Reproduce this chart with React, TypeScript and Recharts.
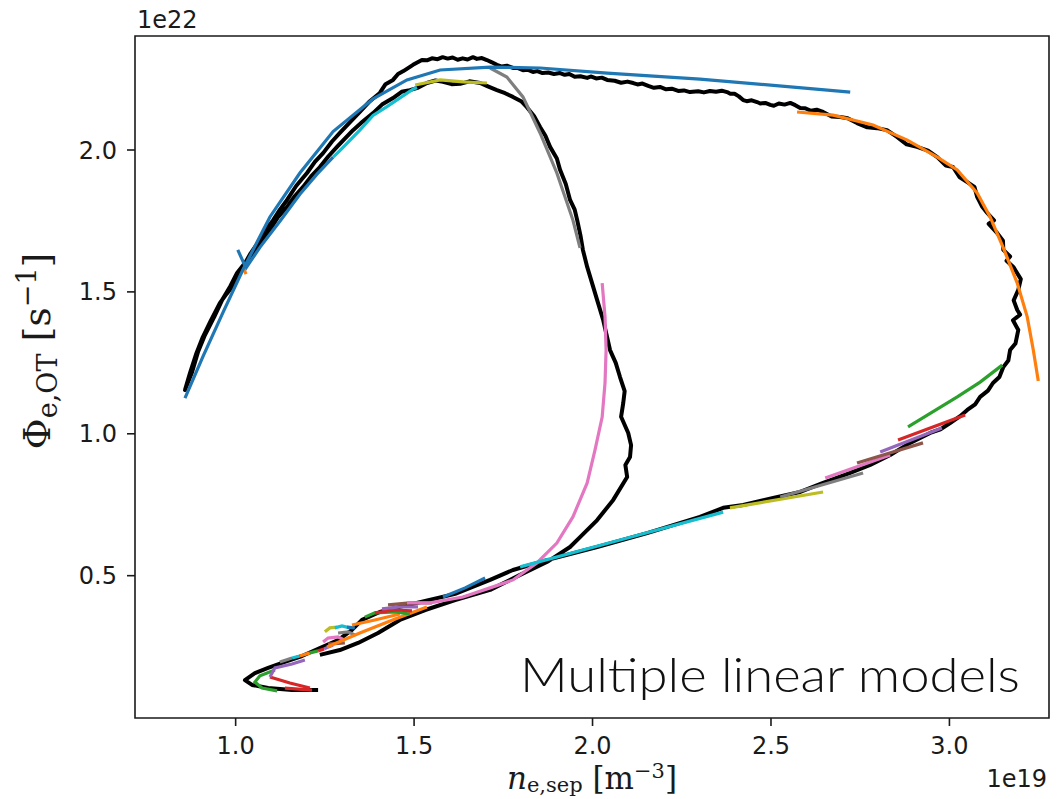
import React from "react";
import { LineChart, Line, XAxis, YAxis, ReferenceArea } from "recharts";

type Pt = [number, number];

// x: n_e,sep [1e19 m^-3], y: Phi_e,OT [1e22 s^-1]
const measured: Pt[] = [
  [1.231, 0.097], [1.158, 0.097], [1.091, 0.104], [1.046, 0.115], [1.026, 0.132], [1.054, 0.157],
  [1.091, 0.175], [1.138, 0.196], [1.186, 0.217], [1.236, 0.245], [1.287, 0.273], [1.326, 0.309],
  [1.354, 0.344], [1.404, 0.372], [1.46, 0.39], [1.531, 0.411], [1.615, 0.436], [1.713, 0.485],
  [1.777, 0.52], [1.872, 0.555], [2.013, 0.601], [2.153, 0.65], [2.301, 0.707], [2.366, 0.739],
  [2.422, 0.749], [2.506, 0.774], [2.582, 0.795], [2.646, 0.827], [2.722, 0.862], [2.778, 0.89],
  [2.834, 0.925], [2.89, 0.968], [2.946, 1.003], [2.975, 1.016], [3.002, 1.038], [3.03, 1.062],
  [3.05, 1.084], [3.072, 1.104], [3.086, 1.13], [3.108, 1.152], [3.122, 1.179], [3.14, 1.2],
  [3.151, 1.235], [3.165, 1.258], [3.17, 1.295], [3.185, 1.318], [3.193, 1.366], [3.178, 1.4],
  [3.198, 1.42], [3.19, 1.436], [3.18, 1.47], [3.193, 1.507], [3.2, 1.545], [3.179, 1.588],
  [3.16, 1.61], [3.17, 1.625], [3.151, 1.648], [3.15, 1.68], [3.134, 1.707], [3.11, 1.74],
  [3.125, 1.752], [3.106, 1.778], [3.092, 1.8], [3.078, 1.834], [3.07, 1.87], [3.05, 1.887],
  [3.028, 1.905], [3.01, 1.94], [2.99, 1.945], [2.966, 1.975], [2.94, 1.998], [2.909, 2.011],
  [2.88, 2.02], [2.853, 2.046], [2.825, 2.07], [2.797, 2.077], [2.77, 2.08], [2.741, 2.095],
  [2.715, 2.112], [2.694, 2.116], [2.67, 2.118], [2.646, 2.134], [2.628, 2.142], [2.612, 2.138],
  [2.596, 2.147], [2.582, 2.148], [2.568, 2.158], [2.554, 2.166], [2.538, 2.16], [2.522, 2.164],
  [2.508, 2.156], [2.498, 2.159], [2.484, 2.166], [2.47, 2.164], [2.461, 2.169], [2.446, 2.175],
  [2.432, 2.172], [2.422, 2.176], [2.41, 2.189], [2.398, 2.198], [2.386, 2.198], [2.377, 2.204],
  [2.362, 2.209], [2.346, 2.205], [2.329, 2.208], [2.312, 2.203], [2.296, 2.207], [2.273, 2.204],
  [2.256, 2.21], [2.24, 2.208], [2.222, 2.216], [2.206, 2.214], [2.189, 2.222], [2.172, 2.219],
  [2.156, 2.226], [2.14, 2.234], [2.126, 2.231], [2.114, 2.236], [2.098, 2.241], [2.08, 2.237],
  [2.062, 2.244], [2.041, 2.247], [2.026, 2.255], [2.01, 2.252], [1.995, 2.259], [1.985, 2.254],
  [1.966, 2.26], [1.95, 2.258], [1.935, 2.268], [1.922, 2.265], [1.909, 2.271], [1.892, 2.268],
  [1.876, 2.273], [1.86, 2.271], [1.845, 2.278], [1.833, 2.275], [1.818, 2.283], [1.805, 2.281],
  [1.79, 2.289], [1.777, 2.289], [1.76, 2.297], [1.746, 2.294], [1.732, 2.3], [1.718, 2.309],
  [1.704, 2.317], [1.69, 2.324], [1.676, 2.321], [1.665, 2.327], [1.65, 2.319], [1.636, 2.323],
  [1.622, 2.318], [1.608, 2.326], [1.594, 2.322], [1.58, 2.327], [1.566, 2.32], [1.55, 2.323],
  [1.536, 2.316], [1.522, 2.317], [1.51, 2.309], [1.497, 2.3], [1.47, 2.278], [1.455, 2.268],
  [1.441, 2.247], [1.42, 2.232], [1.404, 2.201], [1.376, 2.172], [1.348, 2.134], [1.322, 2.1],
  [1.292, 2.06], [1.27, 2.03], [1.245, 1.989], [1.222, 1.958], [1.2, 1.919], [1.17, 1.874],
  [1.144, 1.824], [1.124, 1.79], [1.105, 1.753], [1.085, 1.72], [1.068, 1.683], [1.042, 1.636],
  [1.02, 1.588], [0.99, 1.517], [0.974, 1.492], [0.956, 1.461], [0.93, 1.398], [0.908, 1.341],
  [0.889, 1.28], [0.872, 1.214], [0.858, 1.154], [0.878, 1.218], [0.895, 1.29], [0.914, 1.348],
  [0.94, 1.412], [0.962, 1.471], [0.985, 1.52], [1.004, 1.567], [1.026, 1.602], [1.048, 1.637],
  [1.072, 1.68], [1.096, 1.718], [1.118, 1.762], [1.144, 1.799], [1.166, 1.838], [1.189, 1.87],
  [1.212, 1.908], [1.236, 1.94], [1.26, 1.978], [1.284, 2.011], [1.306, 2.04], [1.329, 2.07],
  [1.356, 2.1], [1.385, 2.13], [1.41, 2.16], [1.441, 2.183], [1.465, 2.205], [1.488, 2.211],
  [1.512, 2.22], [1.536, 2.236], [1.56, 2.245], [1.581, 2.24], [1.605, 2.232], [1.629, 2.233],
  [1.655, 2.242], [1.685, 2.236], [1.705, 2.225], [1.732, 2.211], [1.755, 2.2], [1.777, 2.187],
  [1.8, 2.172], [1.816, 2.151], [1.836, 2.12], [1.853, 2.081], [1.868, 2.05], [1.881, 2.011],
  [1.9, 1.97], [1.909, 1.93], [1.925, 1.88], [1.937, 1.824], [1.95, 1.79], [1.957, 1.753],
  [1.966, 1.7], [1.973, 1.648], [1.985, 1.588], [2.013, 1.471], [2.03, 1.4], [2.049, 1.295],
  [2.065, 1.25], [2.077, 1.2], [2.09, 1.15], [2.086, 1.108], [2.08, 1.06], [2.1, 1.003],
  [2.108, 0.96], [2.105, 0.918], [2.092, 0.89], [2.097, 0.848], [2.058, 0.767], [2.013, 0.696],
  [1.965, 0.636], [1.937, 0.601], [1.872, 0.548], [1.797, 0.503], [1.713, 0.45], [1.615, 0.414],
  [1.531, 0.379], [1.46, 0.344], [1.399, 0.298], [1.343, 0.263], [1.292, 0.238], [1.236, 0.221],
];

// fitted model trajectories
const blueOuter: Pt[] = [
  [0.858, 1.126], [0.908, 1.271], [0.964, 1.426], [1.02, 1.577], [1.096, 1.764], [1.18, 1.919],
  [1.273, 2.065], [1.385, 2.18], [1.48, 2.247], [1.573, 2.282], [1.713, 2.292], [1.853, 2.289],
  [2.041, 2.271], [2.301, 2.25], [2.722, 2.204],
];
const blueInner: Pt[] = [
  [1.006, 1.648], [1.029, 1.584], [1.068, 1.657], [1.124, 1.749], [1.18, 1.844], [1.228, 1.915], [1.273, 1.975],
];
const orangeTick: Pt[] = [[1.023, 1.581], [1.029, 1.563]];
const cyanTop: Pt[] = [
  [1.273, 1.975], [1.292, 1.998], [1.348, 2.07], [1.385, 2.122], [1.424, 2.153], [1.497, 2.214], [1.508, 2.22],
];
const oliveTop: Pt[] = [[1.503, 2.229], [1.573, 2.247], [1.637, 2.24], [1.704, 2.236]];
const grayTop: Pt[] = [
  [1.713, 2.289], [1.76, 2.257], [1.805, 2.187], [1.853, 2.06], [1.9, 1.919], [1.945, 1.753], [1.965, 1.655],
];
const orangeRight: Pt[] = [
  [2.573, 2.134], [2.674, 2.123], [2.786, 2.088], [2.882, 2.035], [2.966, 1.975], [3.022, 1.93],
  [3.078, 1.848], [3.114, 1.764], [3.151, 1.655], [3.19, 1.531], [3.218, 1.412], [3.235, 1.295], [3.249, 1.186],
];
const pinkLarge: Pt[] = [
  [1.48, 0.404], [1.545, 0.404], [1.637, 0.425], [1.713, 0.457], [1.777, 0.485], [1.844, 0.545],
  [1.9, 0.615], [1.945, 0.707], [1.985, 0.827], [2.007, 0.943], [2.027, 1.059], [2.035, 1.179],
  [2.038, 1.295], [2.035, 1.412], [2.027, 1.531],
];
const blueMid: Pt[] = [[1.581, 0.425], [1.643, 0.457], [1.699, 0.492]];
const cyanMid: Pt[] = [[1.797, 0.531], [2.077, 0.626], [2.366, 0.724]];
const oliveMid: Pt[] = [[2.385, 0.739], [2.646, 0.795]];
const grayMid: Pt[] = [[2.526, 0.777], [2.758, 0.862]];
const pinkMid: Pt[] = [[2.652, 0.844], [2.834, 0.925]];
const brownMid: Pt[] = [[2.741, 0.897], [2.926, 0.968]];
const purpleMid: Pt[] = [[2.806, 0.936], [2.979, 1.02]];
const redMid: Pt[] = [[2.856, 0.978], [3.044, 1.066]];
const greenMid: Pt[] = [[2.884, 1.024], [3.022, 1.13], [3.086, 1.182], [3.148, 1.242]];

// low-density cluster
const redLowA: Pt[] = [[1.096, 0.143], [1.152, 0.122], [1.208, 0.104]];
const redLowB: Pt[] = [[1.138, 0.104], [1.214, 0.097]];
const greenLow: Pt[] = [[1.116, 0.094], [1.074, 0.104], [1.054, 0.125], [1.068, 0.147], [1.11, 0.168]];
const purpleLow: Pt[] = [[1.096, 0.143], [1.11, 0.175], [1.158, 0.189], [1.194, 0.203]];
const grayTile: Pt[] = [[1.124, 0.196], [1.158, 0.21]];
const cyanTile: Pt[] = [[1.158, 0.21], [1.18, 0.217]];
const orangeTile: Pt[] = [[1.18, 0.217], [1.208, 0.228]];
const greenTile: Pt[] = [[1.208, 0.228], [1.231, 0.235]];
const redTile: Pt[] = [[1.231, 0.235], [1.248, 0.242]];
const purpleTile: Pt[] = [[1.248, 0.242], [1.273, 0.256]];
const pinkArc: Pt[] = [[1.245, 0.266], [1.259, 0.28], [1.287, 0.284], [1.306, 0.273]];
const brownArc: Pt[] = [[1.259, 0.259], [1.306, 0.263]];
const oliveArc: Pt[] = [[1.25, 0.302], [1.264, 0.316], [1.284, 0.319]];
const cyanArc: Pt[] = [[1.278, 0.316], [1.298, 0.323], [1.32, 0.316]];
const grayArc: Pt[] = [[1.287, 0.298], [1.315, 0.302], [1.334, 0.291]];
const blueArc: Pt[] = [[1.312, 0.319], [1.334, 0.316]];
const orangeLong: Pt[] = [[1.256, 0.249], [1.348, 0.298], [1.447, 0.347], [1.536, 0.39]];
const orangeShort: Pt[] = [[1.326, 0.326], [1.39, 0.344], [1.46, 0.365]];
const greenUp: Pt[] = [[1.362, 0.354], [1.39, 0.369], [1.447, 0.372], [1.488, 0.365]];
const redUp: Pt[] = [[1.39, 0.369], [1.447, 0.379], [1.494, 0.376]];
const purpleUp: Pt[] = [[1.41, 0.383], [1.46, 0.39], [1.511, 0.39]];
const brownUp: Pt[] = [[1.427, 0.397], [1.488, 0.404], [1.55, 0.404]];

const xTicks = [1.0, 1.5, 2.0, 2.5, 3.0];
const yTicks = [0.5, 1.0, 1.5, 2.0];
const xDomain: [number, number] = [0.718, 3.279];
const yDomain: [number, number] = [-0.0015, 2.4017];

const tab = {
  blue: "#1f77b4",
  orange: "#ff7f0e",
  green: "#2ca02c",
  red: "#d62728",
  purple: "#9467bd",
  brown: "#8c564b",
  pink: "#e377c2",
  gray: "#7f7f7f",
  olive: "#bcbd22",
  cyan: "#17becf",
};

const fits: { id: string; color: string; pts: Pt[] }[] = [
  { id: "redLowA", color: tab.red, pts: redLowA },
  { id: "redLowB", color: tab.red, pts: redLowB },
  { id: "greenLow", color: tab.green, pts: greenLow },
  { id: "purpleLow", color: tab.purple, pts: purpleLow },
  { id: "grayTile", color: tab.gray, pts: grayTile },
  { id: "cyanTile", color: tab.cyan, pts: cyanTile },
  { id: "orangeTile", color: tab.orange, pts: orangeTile },
  { id: "greenTile", color: tab.green, pts: greenTile },
  { id: "redTile", color: tab.red, pts: redTile },
  { id: "purpleTile", color: tab.purple, pts: purpleTile },
  { id: "brownArc", color: tab.brown, pts: brownArc },
  { id: "pinkArc", color: tab.pink, pts: pinkArc },
  { id: "grayArc", color: tab.gray, pts: grayArc },
  { id: "oliveArc", color: tab.olive, pts: oliveArc },
  { id: "cyanArc", color: tab.cyan, pts: cyanArc },
  { id: "blueArc", color: tab.blue, pts: blueArc },
  { id: "orangeLong", color: tab.orange, pts: orangeLong },
  { id: "orangeShort", color: tab.orange, pts: orangeShort },
  { id: "greenUp", color: tab.green, pts: greenUp },
  { id: "redUp", color: tab.red, pts: redUp },
  { id: "purpleUp", color: tab.purple, pts: purpleUp },
  { id: "brownUp", color: tab.brown, pts: brownUp },
  { id: "pinkLarge", color: tab.pink, pts: pinkLarge },
  { id: "blueMid", color: tab.blue, pts: blueMid },
  { id: "cyanMid", color: tab.cyan, pts: cyanMid },
  { id: "oliveMid", color: tab.olive, pts: oliveMid },
  { id: "grayMid", color: tab.gray, pts: grayMid },
  { id: "pinkMid", color: tab.pink, pts: pinkMid },
  { id: "brownMid", color: tab.brown, pts: brownMid },
  { id: "purpleMid", color: tab.purple, pts: purpleMid },
  { id: "redMid", color: tab.red, pts: redMid },
  { id: "greenMid", color: tab.green, pts: greenMid },
  { id: "orangeRight", color: tab.orange, pts: orangeRight },
  { id: "grayTop", color: tab.gray, pts: grayTop },
  { id: "oliveTop", color: tab.olive, pts: oliveTop },
  { id: "cyanTop", color: tab.cyan, pts: cyanTop },
  { id: "blueInner", color: tab.blue, pts: blueInner },
  { id: "orangeTick", color: tab.orange, pts: orangeTick },
  { id: "blueOuter", color: tab.blue, pts: blueOuter },
];

const rows = (pts: Pt[]) => pts.map(([x, y]) => ({ x, y }));

const INK = "#1a1a1a";
const tickFont = { fontSize: 24, fill: INK, fontFamily: "DejaVu Sans" };
const mathFont = "DejaVu Serif";

export default function App() {
  return (
    <div style={{ position: "absolute", left: 0, top: 0, width: 1064, height: 799, background: "#fff" }}>
      <LineChart width={1064} height={799} margin={{ top: 36, right: 15, left: 0, bottom: 0 }}>
        <XAxis
          type="number"
          dataKey="x"
          domain={xDomain}
          ticks={xTicks}
          interval={0}
          allowDataOverflow
          height={81}
          tickSize={8}
          tickMargin={11}
          axisLine={false}
          tickLine={{ stroke: INK, strokeWidth: 1.6 }}
          tick={tickFont}
          tickFormatter={(v: number) => v.toFixed(1)}
        />
        <YAxis
          type="number"
          dataKey="y"
          domain={yDomain}
          ticks={yTicks}
          interval={0}
          allowDataOverflow
          width={135}
          tickSize={8}
          tickMargin={10}
          axisLine={false}
          tickLine={{ stroke: INK, strokeWidth: 1.6 }}
          tick={tickFont}
          tickFormatter={(v: number) => v.toFixed(1)}
        />
        <ReferenceArea
          x1={xDomain[0]}
          x2={xDomain[1]}
          y1={yDomain[0]}
          y2={yDomain[1]}
          fill="none"
          stroke={INK}
          strokeWidth={1.6}
          ifOverflow="visible"
        />
        <Line
          data={rows(measured)}
          dataKey="y"
          type="linear"
          stroke="#000"
          strokeWidth={4}
          strokeLinejoin="round"
          dot={false}
          activeDot={false}
          isAnimationActive={false}
        />
        {fits.map((f) => (
          <Line
            key={f.id}
            data={rows(f.pts)}
            dataKey="y"
            type="linear"
            stroke={f.color}
            strokeWidth={3.2}
            dot={false}
            activeDot={false}
            isAnimationActive={false}
          />
        ))}
      </LineChart>
      <svg
        width={1064}
        height={799}
        style={{ position: "absolute", left: 0, top: 0, pointerEvents: "none" }}
      >
        <text x={137} y={28} fontFamily="DejaVu Sans" fontSize={24} fill={INK}>
          1e22
        </text>
        <text x={1047} y={787} textAnchor="end" fontFamily="DejaVu Sans" fontSize={24} fill={INK}>
          1e19
        </text>
        <text x={520} y={692} fontFamily="Lato" fontWeight={300} fontSize={48} fill="#111" textLength={500} lengthAdjust="spacingAndGlyphs">
          Multiple linear models
        </text>
        <text x={592} y={789} textAnchor="middle" fontFamily={mathFont} fontSize={31} fill={INK}>
          <tspan fontStyle="italic">n</tspan>
          <tspan fontSize={21} dy={3}>e,sep</tspan>
          <tspan dy={-3}> [m</tspan>
          <tspan fontSize={21} dy={-11}>−3</tspan>
          <tspan dy={11}>]</tspan>
        </text>
        <text transform="translate(50,351) rotate(-90)" textAnchor="middle" fontFamily={mathFont} fontSize={38} fill={INK}>
          <tspan>Φ</tspan>
          <tspan fontSize={27} dy={7}>e,OT</tspan>
          <tspan dy={-7}> [s</tspan>
          <tspan fontSize={27} dy={-14}>−1</tspan>
          <tspan dy={14}>]</tspan>
        </text>
      </svg>
    </div>
  );
}
